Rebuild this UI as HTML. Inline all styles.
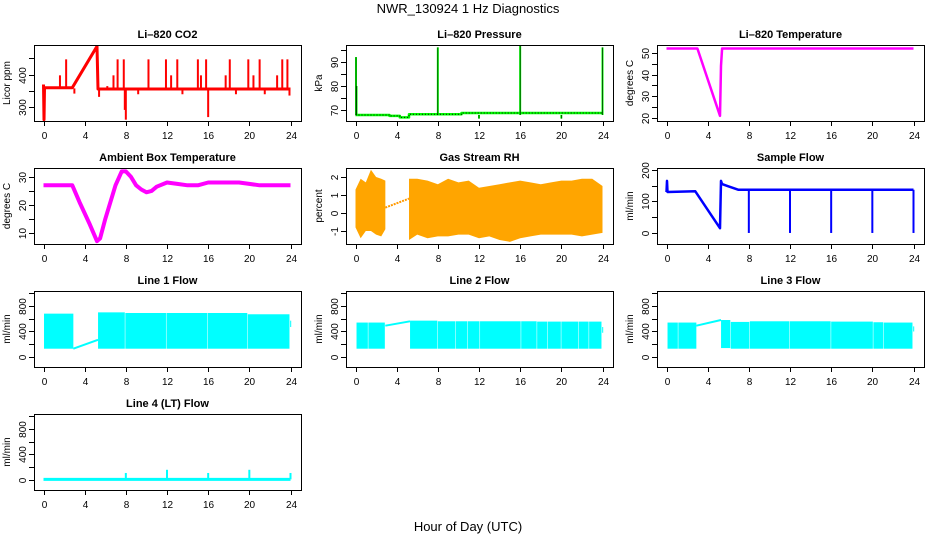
<!DOCTYPE html>
<html><head><meta charset="utf-8"><style>
body{margin:0;background:#fff;}
svg{display:block;font-family:"Liberation Sans",Arial,sans-serif;}
</style></head><body>
<svg id="c" width="936" height="540" xmlns="http://www.w3.org/2000/svg">
<text x="468" y="13" text-anchor="middle" font-size="13">NWR_130924  1 Hz Diagnostics</text>
<text x="468" y="531" text-anchor="middle" font-size="13">Hour of Day (UTC)</text>
</svg>
<script>
// ---- data ----
const xTicks=[0,4,8,12,16,20,24];
// CO2
const co2T=[0,0.05,0.1,2.8,5.2,5.3,24];
const co2V=[370,262,360,360,487,356,356];
const co2SpT=[2.2,7.2,7.8,10.2,11.9,13,15,15.8,18.1,19.9,21,23.2,23.7,1.6,6.8,12.4,15.3,17.7,20.4,22.7,0.1,8,16,7.9,5.4,13.5,18.7,21.5,23.9,9.2,3.0,6.2];
const co2SpV=[447,447,447,447,447,447,447,447,447,447,447,447,447,398,398,398,398,398,398,398,262,262,270,292,332,340,340,340,336,340,342,365];
// Pressure
const pT=[0,3.3,3.3,4.3,4.3,5.2,5.2,10.3,10.3,24];
const pV=[68,68,67.6,67.6,67,67,68.3,68.3,68.8,68.8];
const pSpT=[0.05,0.1,8,16,24,12,20];
const pSpV=[92,80,96,97,96,66.5,66.5];
// Li-820 temperature
const tT=[0,3,5.2,5.3,5.4,24];
const tV=[52,52,21,44,52,52];
// Ambient
const aT=[0,1,2,2.8,3.5,4.5,5.2,5.5,6,7,7.6,8,8.5,9,9.5,10,10.5,11,12,13,14,15,16,17,18,19,20,21,22,23,24];
const aV=[27,27,27,27,21,13,7,8,15,27,32,32,30,27,25.5,24.5,25,26.5,28,27.5,27,27,28,28,28,28,27.5,27,27,27,27];
// RH
const rh1T=[0,0.5,1,1.5,2,2.5,2.9];
const rh1Up=[1.3,1.9,1.7,2.4,2.0,1.9,1.8];
const rh1Lo=[-0.8,-1.4,-1.0,-1.0,-1.2,-1.3,-0.9];
const rhLinkT=[2.9,5.2];
const rhLinkV=[0.3,0.8];
const rh2T=[5.2,6,7,8,9,10,11,12,13,14,15,16,17,18,19,20,21,22,23,24];
const rh2Up=[1.9,1.9,1.8,1.6,1.9,1.7,1.8,1.4,1.5,1.6,1.7,1.8,1.7,1.6,1.7,1.8,1.8,1.9,1.9,1.5];
const rh2Lo=[-1.5,-1.2,-1.4,-1.3,-1.3,-1.2,-1.2,-1.4,-1.3,-1.5,-1.6,-1.4,-1.3,-1.2,-1.2,-1.2,-1.2,-1.3,-1.2,-1.1];
// Sample flow
const sfT=[0,0.05,0.1,2.8,5.2,5.3,5.4,6,7,24];
const sfV=[130,165,130,132,15,165,155,148,137,137];
const sfDropT=[8,12,16,20,24];
// Line flows (segments)
const l1S=[0.05,5.3,7.95,11.95,15.95,19.85,23.97];
const l1E=[2.9,7.9,11.9,15.9,19.8,23.9,24.05];
const l1Top=[680,700,690,690,690,670,570];
const l1Bot=[130,130,130,130,130,130,470];
const l1LinkV=[130,270];
const l2S=[0.1,1.25,5.3,8.0,9.75,10.9,12.1,16.1,17.65,18.7,20.0,21.7,22.7,23.97];
const l2E=[1.2,2.85,7.95,9.7,10.85,12.05,16.05,17.6,18.65,19.95,21.65,22.65,23.9,24.05];
const l2Top=[540,540,570,560,560,560,560,560,555,555,555,555,555,470];
const l2Bot=[130,130,130,130,130,130,130,130,130,130,130,130,130,380];
const l2LinkV=[490,560];
const l3S=[0.1,1.15,5.3,6.25,8.1,12.0,16.0,20.1,21.1,23.97];
const l3E=[1.1,2.9,6.2,8.05,11.95,15.95,20.05,21.05,23.9,24.05];
const l3Top=[540,540,580,550,560,560,555,545,540,480];
const l3Bot=[130,130,140,130,130,130,130,130,130,400];
const l3LinkV=[490,580];
const linkT=[2.9,5.3];
const l4SpT=[8,12,16,20,24];
const l4SpV=[110,160,110,160,110];

// ---- layout ----
const svg=document.getElementById('c');
const NS='http://www.w3.org/2000/svg';
const colL=[34,346,657], rowT=[45,168,291,414], BW=267, BH=76;
function mk(tag,at,parent){const e=document.createElementNS(NS,tag);for(const k in at)e.setAttribute(k,at[k]);(parent||svg).appendChild(e);return e;}

function panel(c,r,title,ylab,lo,hi,ticks,labels,name){
  const L=colL[c],T=rowT[r],B=T+BH,R=L+BW;
  const g=mk('g',{});
  
  
  const P={L,T,B,R,g,
    x:h=>L+9.5+h/24*247,
    y:v=>B-(v-lo)/(hi-lo)*BH};
  const clip=mk('clipPath',{id:'cl'+name},g);
  mk('rect',{x:L,y:T,width:BW,height:BH},clip);
  P.d=mk('g',{'clip-path':'url(#cl'+name+')'},g);
  const bx=mk('rect',{x:L+0.5,y:T+0.5,width:BW,height:BH,fill:'none',stroke:'#000','stroke-width':1},g);
  
  
  const t=mk('text',{x:(L+R)/2,y:T-7,'text-anchor':'middle','font-size':11,'font-weight':'bold'},g);
  t.textContent=title;
  
  
  const yl=mk('text',{transform:`translate(${L-24},${(T+B)/2}) rotate(-90)`,'text-anchor':'middle','font-size':10},g);
  yl.textContent=ylab;
  
  
  xTicks.forEach(h=>{
    const X=Math.round(P.x(h))+0.5;
    mk('line',{x1:X,x2:X,y1:B,y2:B+5,stroke:'#000'},g);
    const tl=mk('text',{x:X,y:B+18,'text-anchor':'middle','font-size':10},g);
    tl.textContent=h;
    
    
  });
  ticks.forEach(v=>{
    const Y=Math.round(P.y(v))+0.5;
    mk('line',{x1:L-5,x2:L,y1:Y,y2:Y,stroke:'#000'},g);
    if(labels.includes(v)){
      const tl=mk('text',{transform:`translate(${L-8},${Y}) rotate(-90)`,'text-anchor':'middle','font-size':10},g);
      tl.textContent=v;
      
      
    }
  });
  return P;
}
function poly(P,T,V,col,w,extra){
  const pts=T.map((t,i)=>P.x(t).toFixed(1)+','+P.y(V[i]).toFixed(1)).join(' ');
  const e=mk('polyline',Object.assign({points:pts,fill:'none',stroke:col,'stroke-width':w,'stroke-linejoin':'round'},extra||{}),P.d);
  
  
  return e;
}
function vlines(P,T,base,V,col,w){
  T.forEach((t,i)=>{
    const X=P.x(t);
    const e=mk('line',{x1:X,x2:X,y1:P.y(base),y2:P.y(V[i]),stroke:col,'stroke-width':w},P.d);
    
    
  });
}
function segs(P,S,E,Top,Bot,col){
  S.forEach((s,i)=>{
    const x1=P.x(s),x2=P.x(E[i]);
    const e=mk('rect',{x:x1,y:P.y(Top[i]),width:Math.max(1,x2-x1),height:P.y(Bot[i])-P.y(Top[i]),fill:col},P.d);
    
    
  });
}

// CO2
let P=panel(0,0,'Li\u2013820 CO2','Licor ppm',258,491,[300,350,400,450],[300,400],'co2');
vlines(P,co2SpT,358,co2SpV,'#ff0000',2);
poly(P,co2T,co2V,'#ff0000',3);
// Pressure
P=panel(1,0,'Li\u2013820 Pressure','kPa',65.5,97,[70,75,80,85,90,95],[70,80,90],'pressure');
poly(P,pT,pV,'#00ff00',2.5);
vlines(P,pSpT,68,pSpV,'#00ff00',2);
poly(P,pT,pV,'#000',1,{'stroke-dasharray':'1,2'});
vlines(P,pSpT,68,pSpV,'#000',0.6);
// Temperature
P=panel(2,0,'Li\u2013820 Temperature','degrees C',18.6,53.6,[20,25,30,35,40,45,50],[20,30,40,50],'li820-temp');
poly(P,tT,tV,'#ff00ff',2.5);
// Ambient
P=panel(0,1,'Ambient Box Temperature','degrees C',6,33.2,[10,15,20,25,30],[10,20,30],'ambient-temp');
poly(P,aT,aV,'#ff00ff',4);
// RH
P=panel(1,1,'Gas Stream RH','percent',-1.72,2.5,[-1,0,1,2],[-1,0,1,2],'gas-rh');
[[rh1T,rh1Up,rh1Lo],[rh2T,rh2Up,rh2Lo]].forEach(([T,U,Lo])=>{
  const pts=T.map((t,i)=>P.x(t)+','+P.y(U[i])).concat(T.slice().reverse().map((t,i)=>P.x(t)+','+P.y(Lo[T.length-1-i])));
  const e=mk('polygon',{points:pts.join(' '),fill:'#ffa500'},P.d);
  
  
});
poly(P,rhLinkT,rhLinkV,'#ff9900',2,{'stroke-dasharray':'2,1'});
// Sample flow
P=panel(2,1,'Sample Flow','ml/min',-35,206,[0,50,100,150,200],[0,100,200],'sample-flow');
poly(P,sfT,sfV,'#0000ff',2.5);
vlines(P,sfDropT,137,sfDropT.map(()=>0),'#0000ff',2);
// Line flows
const flowTicks=[0,200,400,600,800,1000], flowLab=[0,400,800];
P=panel(0,2,'Line 1 Flow','ml/min',-157,1035,flowTicks,flowLab,'line1-flow');
segs(P,l1S,l1E,l1Top,l1Bot,'#00ffff'); poly(P,linkT,l1LinkV,'#00ffff',2);
P=panel(1,2,'Line 2 Flow','ml/min',-157,1035,flowTicks,flowLab,'line2-flow');
segs(P,l2S,l2E,l2Top,l2Bot,'#00ffff'); poly(P,linkT,l2LinkV,'#00ffff',2);
P=panel(2,2,'Line 3 Flow','ml/min',-157,1035,flowTicks,flowLab,'line3-flow');
segs(P,l3S,l3E,l3Top,l3Bot,'#00ffff'); poly(P,linkT,l3LinkV,'#00ffff',2);
P=panel(0,3,'Line 4 (LT) Flow','ml/min',-157,1035,flowTicks,flowLab,'line4-flow');
poly(P,[0,24],[10,10],'#00ffff',3);
vlines(P,l4SpT,10,l4SpV,'#00ffff',2);
</script>
</body></html>
